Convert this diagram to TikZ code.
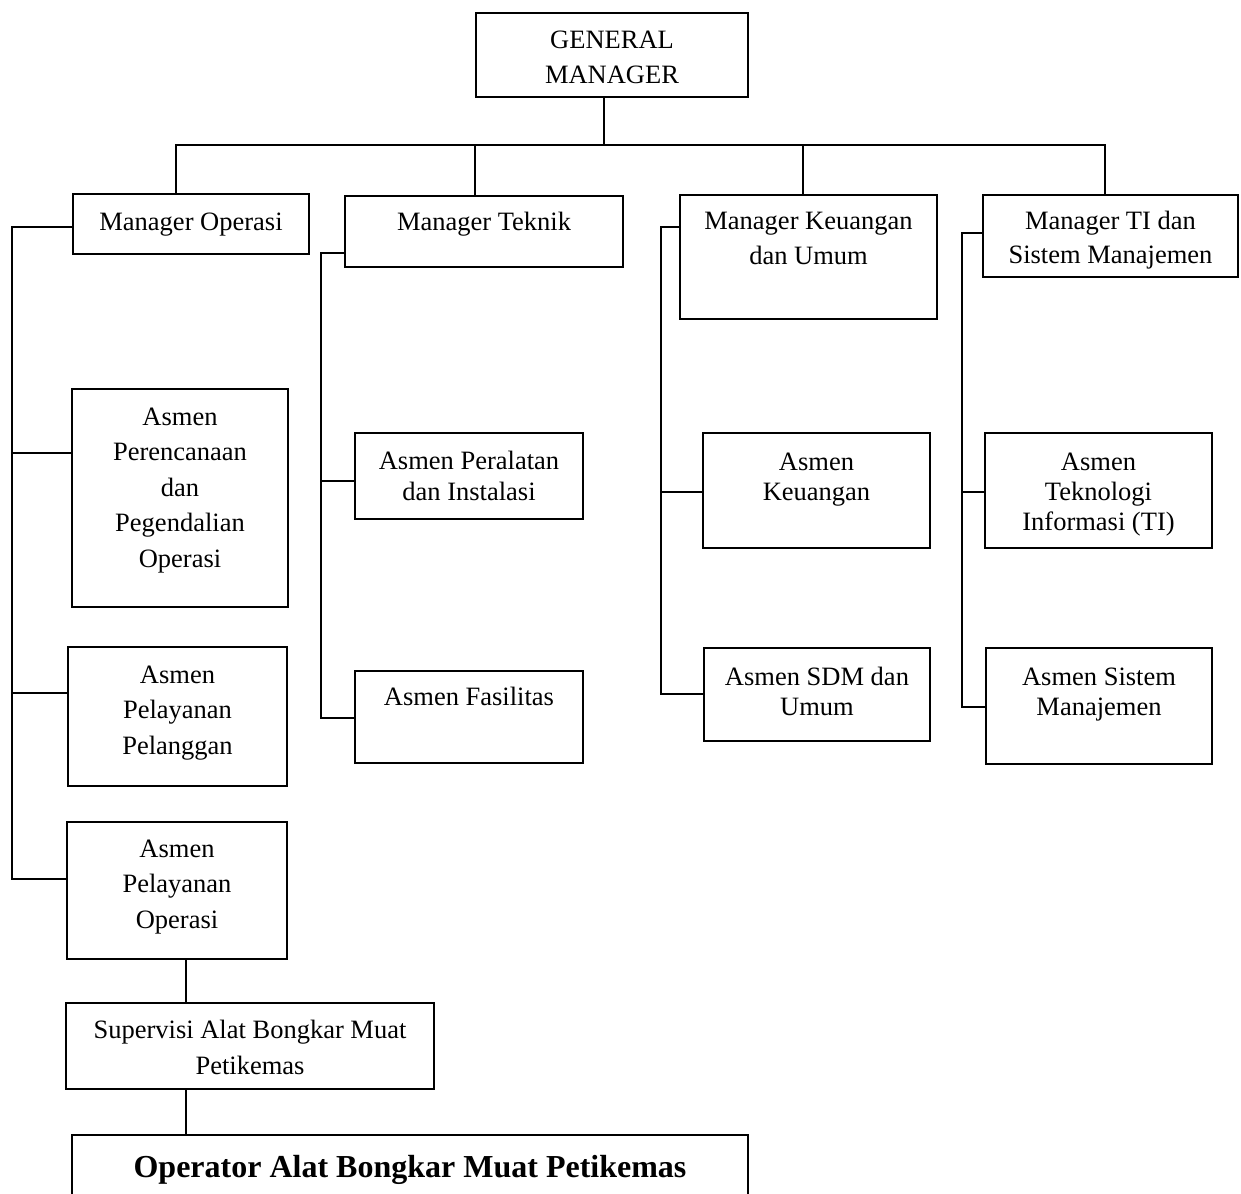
\documentclass[tikz,border=0pt]{standalone}
\usepackage{fontspec}
\setmainfont{Liberation Serif}
\tikzset{
  box/.style={draw=black, line width=1.6pt, inner sep=0pt, outer sep=0pt},
  lbl/.style={font=\fontsize{26.5}{#1}\selectfont, align=center, inner sep=0pt, anchor=north},
  con/.style={line width=1.6pt, line cap=rect},
}
\begin{document}
\begin{tikzpicture}[x=1pt, y=-1pt]
\useasboundingbox (0,0) rectangle (1241,1193);
\clip (0,0) rectangle (1241,1193);
\fill[white] (0,0) rectangle (1241,1193);

% boxes
\node[box, minimum width=272pt, minimum height=84pt] (gm) at (612,55) {};
\node[box, minimum width=236pt, minimum height=60pt] (mo) at (191,224) {};
\node[box, minimum width=278pt, minimum height=71pt] (mt) at (484,231.5) {};
\node[box, minimum width=257pt, minimum height=124pt] (mk) at (808.5,257) {};
\node[box, minimum width=255pt, minimum height=82pt] (mti) at (1110.5,236) {};
\node[box, minimum width=216pt, minimum height=218pt] (ppo) at (180,498) {};
\node[box, minimum width=219pt, minimum height=139pt] (pp) at (177.5,716.5) {};
\node[box, minimum width=220pt, minimum height=137pt] (po) at (177,890.5) {};
\node[box, minimum width=368pt, minimum height=86pt] (sup) at (250,1046) {};
\node[box, minimum width=676pt, minimum height=120pt] (op) at (410,1195) {};
\node[box, minimum width=228pt, minimum height=86pt] (pi) at (469,476) {};
\node[box, minimum width=228pt, minimum height=92pt] (fas) at (469,717) {};
\node[box, minimum width=227pt, minimum height=115pt] (keu) at (816.5,490.5) {};
\node[box, minimum width=226pt, minimum height=93pt] (sdm) at (817,694.5) {};
\node[box, minimum width=227pt, minimum height=115pt] (ti) at (1098.5,490.5) {};
\node[box, minimum width=226pt, minimum height=116pt] (sm) at (1099,706) {};

% texts
\node[lbl=35] (gmt) at (612,23.5) {\strut GENERAL\\\strut MANAGER};
\node[lbl=35.5] (mot) at (191,205.15) {\strut Manager Operasi};
\node[lbl=35.5] (mtt) at (484,205.15) {\strut Manager Teknik};
\node[lbl=35] (mkt) at (808.5,204.5) {\strut Manager Keuangan\\\strut dan Umum};
\node[lbl=34] (mtit) at (1110.5,205.2) {\strut Manager TI dan\\\strut Sistem Manajemen};
\node[lbl=35.5] (ppot) at (180,400.15) {\strut Asmen\\\strut Perencanaan\\\strut dan\\\strut Pegendalian\\\strut Operasi};
\node[lbl=35.5] (ppt) at (177.5,658.15) {\strut Asmen\\\strut Pelayanan\\\strut Pelanggan};
\node[lbl=35.5] (pot) at (177,832.15) {\strut Asmen\\\strut Pelayanan\\\strut Operasi};
\node[lbl=36] (supt) at (250,1012.8) {\strut Supervisi Alat Bongkar Muat\\\strut Petikemas};
\node[font=\fontsize{32}{38}\bfseries\selectfont, inner sep=0pt, anchor=north] (opt) at (410,1150.4) {\strut Operator Alat Bongkar Muat Petikemas};
\node[lbl=31] (pit) at (469,447.3) {\strut Asmen Peralatan\\\strut dan Instalasi};
\node[lbl=31] (fast) at (469,683.3) {\strut Asmen Fasilitas};
\node[lbl=30] (keut) at (816.5,449) {\strut Asmen\\\strut Keuangan};
\node[lbl=30] (sdmt) at (817,664) {\strut Asmen SDM dan\\\strut Umum};
\node[lbl=30] (tit) at (1098.5,449) {\strut Asmen\\\strut Teknologi\\\strut Informasi (TI)};
\node[lbl=30] (smt) at (1099,664) {\strut Asmen Sistem\\\strut Manajemen};

% bus
\coordinate (trunk) at (604,145);
\coordinate (dMO) at (176,145);
\coordinate (dMT) at (475,145);
\coordinate (dMK) at (803,145);
\coordinate (dMTI) at (1105,145);
\draw[con] (trunk |- gm.south) -- (trunk);
\draw[con] (dMO) -- (dMTI);
\draw[con] (dMO) -- (dMO |- mo.north);
\draw[con] (dMT) -- (dMT |- mt.north);
\draw[con] (dMK) -- (dMK |- mk.north);
\draw[con] (dMTI) -- (dMTI |- mti.north);

% Operasi spine
\coordinate (sMO) at (12,227);
\coordinate (bPPO) at (12,453);
\coordinate (bPP) at (12,693);
\coordinate (bPO) at (12,879);
\draw[con] (mo.west |- sMO) -- (sMO) -- (bPO) -- (bPO -| po.west);
\draw[con] (bPPO) -- (bPPO -| ppo.west);
\draw[con] (bPP) -- (bPP -| pp.west);

% Teknik spine
\coordinate (sMT) at (321,253);
\coordinate (bPI) at (321,481);
\coordinate (bFAS) at (321,718);
\draw[con] (mt.west |- sMT) -- (sMT) -- (bFAS) -- (bFAS -| fas.west);
\draw[con] (bPI) -- (bPI -| pi.west);

% Keuangan spine
\coordinate (sMK) at (661,227);
\coordinate (bKEU) at (661,492);
\coordinate (bSDM) at (661,694);
\draw[con] (mk.west |- sMK) -- (sMK) -- (bSDM) -- (bSDM -| sdm.west);
\draw[con] (bKEU) -- (bKEU -| keu.west);

% TI spine
\coordinate (sMTI) at (962,233);
\coordinate (bTI) at (962,492);
\coordinate (bSM) at (962,707);
\draw[con] (mti.west |- sMTI) -- (sMTI) -- (bSM) -- (bSM -| sm.west);
\draw[con] (bTI) -- (bTI -| ti.west);

% bottom chain
\coordinate (cx) at (186,0);
\draw[con] (cx |- po.south) -- (cx |- sup.north);
\draw[con] (cx |- sup.south) -- (cx |- op.north);
\end{tikzpicture}
\end{document}
